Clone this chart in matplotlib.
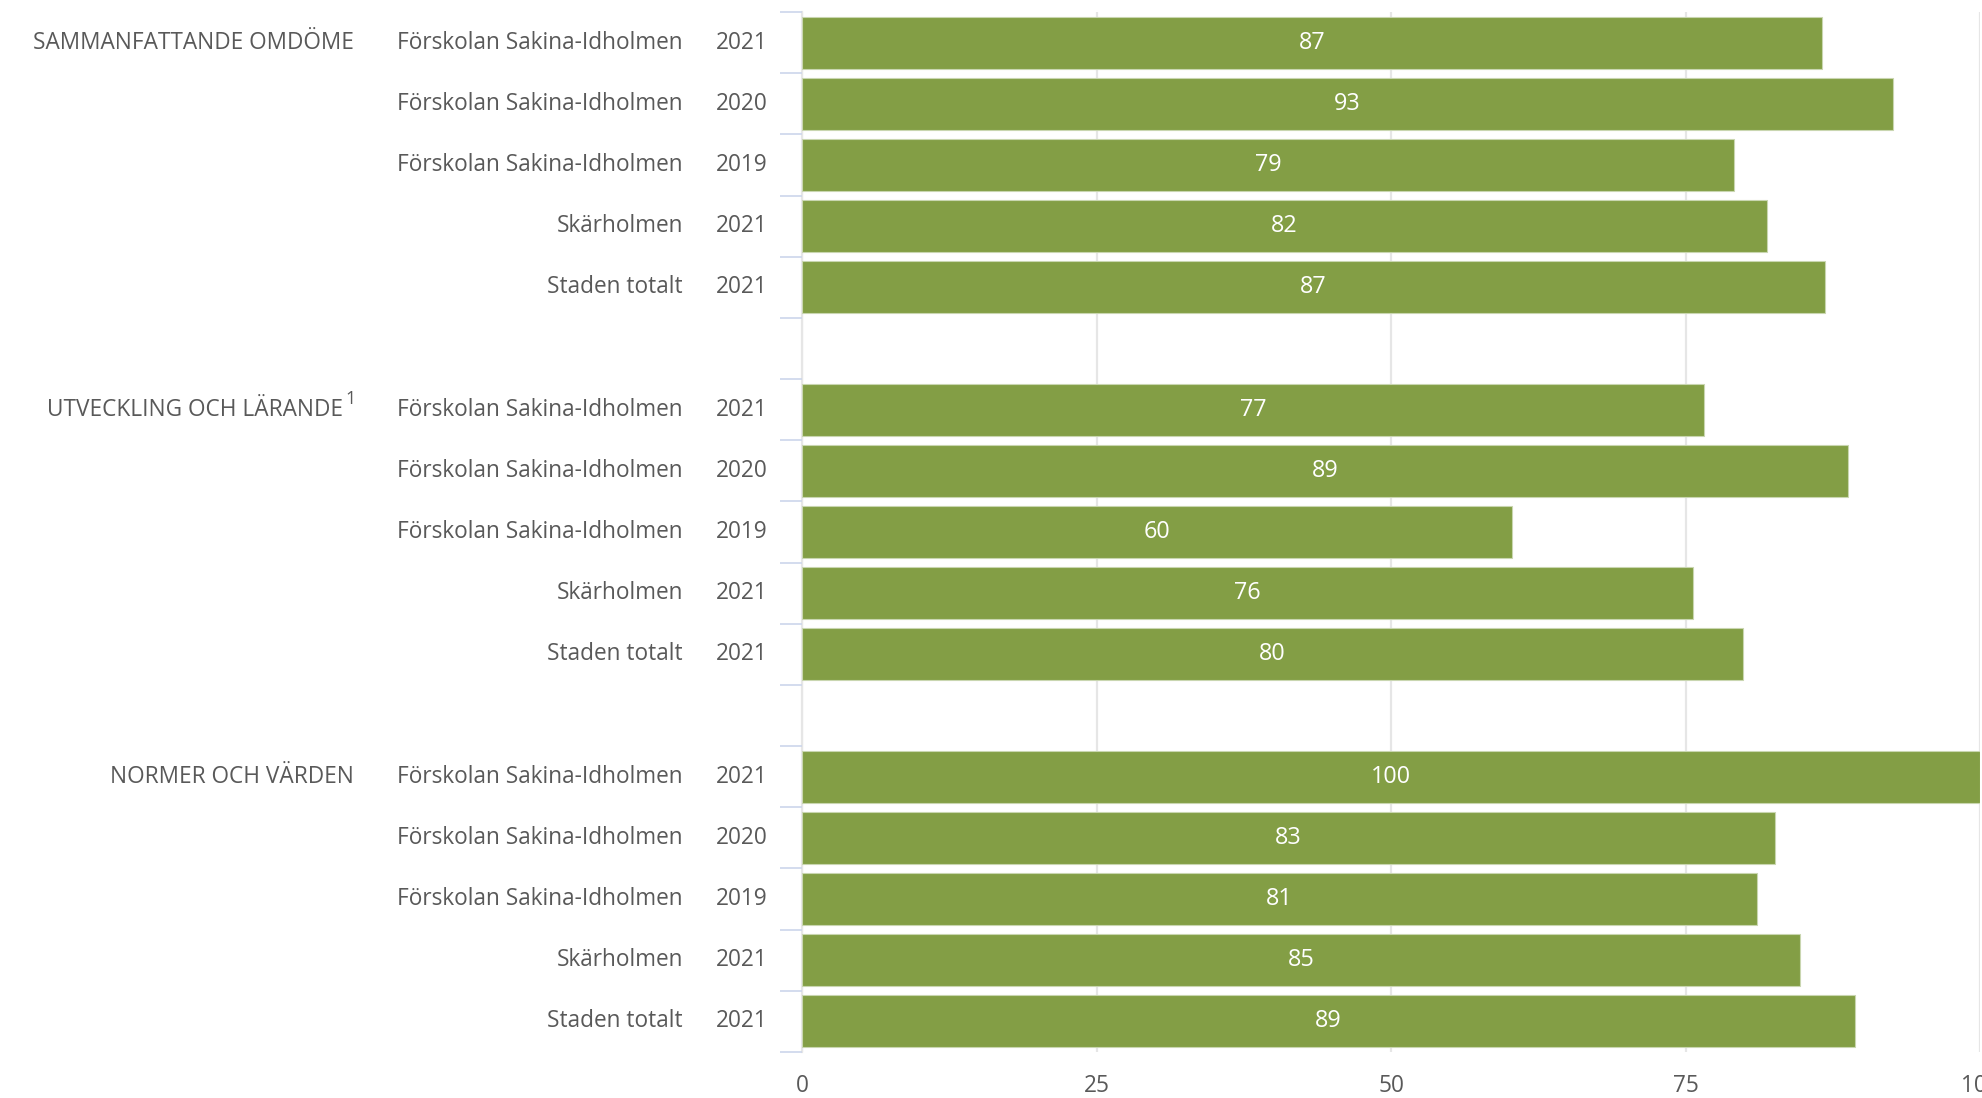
import matplotlib
matplotlib.use("Agg")
import matplotlib.pyplot as plt
import matplotlib.transforms as mtransforms
import numpy as np

# data
groups = ["SAMMANFATTANDE OMDÖME", "UTVECKLING OCH LÄRANDE", "NORMER OCH VÄRDEN"]
units = ["Förskolan Sakina-Idholmen", "Förskolan Sakina-Idholmen",
         "Förskolan Sakina-Idholmen", "Skärholmen", "Staden totalt"]
years = ["2021", "2020", "2019", "2021", "2021"]
omdome = [86.6, 92.6, 79.1, 81.9, 86.8]
utveckling = [76.6, 88.8, 60.3, 75.6, 79.9]
normer = [100, 82.6, 81.1, 84.7, 89.4]
xticks = [0, 25, 50, 75, 100]

series = [omdome, utveckling, normer]

plt.rcParams['font.family'] = ['Open Sans', 'DejaVu Sans']
txt_color = '#595959'
bar_color = '#839e45'
fs = 16.3

fig = plt.figure(figsize=(19.83, 10.98), dpi=100)
ax = fig.add_axes([802 / 1983, 1 - 1052 / 1098, (1980 - 802) / 1983, (1052 - 12) / 1098])

n_slots = len(groups) * (len(units) + 1) - 1
trans = mtransforms.blended_transform_factory(fig.transFigure, ax.transData)

for g, vals in enumerate(series):
    pos = np.arange(len(vals)) + g * (len(units) + 1)
    ax.barh(pos, vals, height=0.85, color=bar_color, edgecolor='#c9d6b0',
            linewidth=0.8, zorder=3)
    for p, v in zip(pos, vals):
        ax.text(v / 2, p, f"{v:.0f}", color='white', ha='center', va='center',
                fontsize=fs + 0.5, zorder=4)
    for p, u, yr in zip(pos, units, years):
        ax.text(683 / 1983, p, u, transform=trans, ha='right', va='center',
                color=txt_color, fontsize=fs)
        ax.text(768 / 1983, p, yr, transform=trans, ha='right', va='center',
                color=txt_color, fontsize=fs)
    if g == 1:
        ax.text(343 / 1983, pos[0], groups[g], transform=trans, ha='right',
                va='center', color=txt_color, fontsize=fs)
        ax.text(345 / 1983, pos[0] - 0.17, "1", transform=trans, ha='left',
                va='center', color=txt_color, fontsize=13)
    else:
        ax.text(354 / 1983, pos[0], groups[g], transform=trans, ha='right',
                va='center', color=txt_color, fontsize=fs)

ax.set_xlim(0, 100)
ax.set_ylim(n_slots - 0.5, -0.5)
ax.set_xticks(xticks)
ax.set_xticklabels([str(t) for t in xticks])
ax.tick_params(axis='x', length=0, pad=16, labelsize=fs, labelcolor=txt_color)
ax.grid(axis='x', color='#e6e6e6', linewidth=1.6, zorder=0)

ax.set_yticks([])
ax.set_yticks(np.arange(-0.5, n_slots, 1.0), minor=True)
ax.tick_params(axis='y', which='minor', length=16, width=1.2, color='#ccd6eb',
               labelleft=False)

for side in ['top', 'right', 'bottom']:
    ax.spines[side].set_visible(False)
ax.spines['left'].set_color('#e6e6e6')
ax.spines['left'].set_linewidth(1.6)
ax.spines['left'].set_zorder(1)

fig.savefig("out.png", dpi=100)
